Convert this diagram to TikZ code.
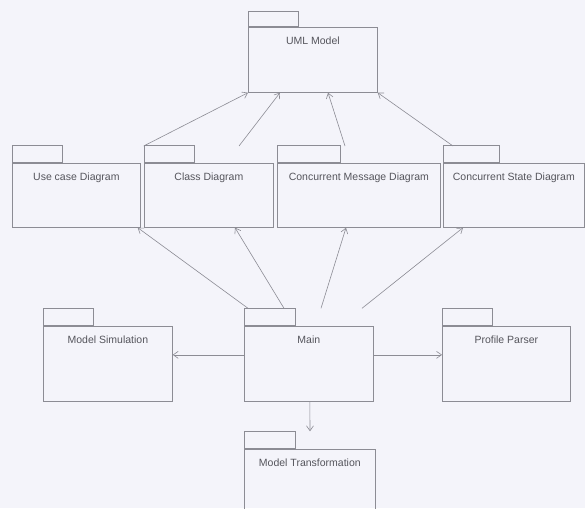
\documentclass[tikz,border=0pt]{standalone}
\usepackage{fontspec}
\setmainfont{Liberation Sans}
\usetikzlibrary{arrows.meta,calc}
\definecolor{bg}{HTML}{F4F4FA}
\definecolor{ln}{HTML}{8C8C94}
\definecolor{tx}{HTML}{55555C}
\tikzset{
  pkgbody/.style={draw=ln, line width=0.7pt, rectangle, inner sep=0pt, anchor=north west},
  pkgtab/.style={draw=ln, line width=0.7pt, rectangle, inner sep=0pt, minimum height=17pt, anchor=south west},
  pkglabel/.style={below=10pt, font=\fontsize{10.5}{13}\selectfont, text=tx, inner sep=0pt},
  dep/.style={draw=ln, line width=0.6pt, -{Straight Barb[length=5pt,width=7pt]}}
}
\newcommand{\pkgdraw}[8]{%
  \node[pkgbody, minimum width=#4pt, minimum height=#5pt, label={[pkglabel]north:#6}] (#1) at (#2,#3) {};
  \node[pkgtab, minimum width=#7pt, minimum height=#8pt] (#1T) at (#1.north west) {};
}
\begin{document}
\begin{tikzpicture}[x=1pt,y=-1pt]
\fill[bg] (0,0) rectangle (585,508);
\useasboundingbox (0,0) rectangle (585,508);
\pkgdraw{uml}{248}{27}{129}{65}{UML Model}{50}{15}
\pkgdraw{uc}{12}{163}{128}{64}{Use case Diagram}{50}{17}
\pkgdraw{cls}{144}{163}{129}{64}{Class Diagram}{50}{17}
\pkgdraw{cm}{277}{163}{163}{64}{Concurrent Message Diagram}{63}{17}
\pkgdraw{cs}{443}{163}{141}{64}{Concurrent State Diagram}{56}{17}
\pkgdraw{ms}{43}{326}{129}{75}{Model Simulation}{50}{17}
\pkgdraw{main}{244}{326}{129}{75}{Main}{51}{17}
\pkgdraw{pp}{442}{326}{128}{75}{Profile Parser}{50}{17}
\pkgdraw{mt}{244}{449}{131}{62}{Model Transformation}{51}{17}
% to UML Model
\draw[dep] ($(uc.north east)+(3,-17)$) -- (uml.south west);
\draw[dep] ($(cls.north west)+(95,-17)$) -- ($(uml.south west)+(32,0)$);
\draw[dep] ($(cm.north west)+(68,-17)$) -- ($(uml.south west)+(80,0)$);
\draw[dep] ($(cs.north west)+(10,-17)$) -- (uml.south east);
% from Main
\draw[dep] ($(mainT.north west)+(4,0)$) -- ($(uc.south east)+(-3,0)$);
\draw[dep] ($(mainT.north west)+(40,0)$) -- ($(cls.south west)+(91,0)$);
\draw[dep] ($(mainT.north west)+(77,0)$) -- ($(cm.south west)+(69,0)$);
\draw[dep] ($(mainT.north west)+(118,0)$) -- ($(cs.south west)+(20,0)$);
\draw[dep] ($(main.west)+(0,-9)$) -- ($(ms.east)+(0,-9)$);
\draw[dep] ($(main.east)+(0,-9)$) -- ($(pp.west)+(0,-9)$);
\draw[dep] ($(main.south)+(1,0)$) -- ($(mtT.north west)+(66,0)$);
\end{tikzpicture}
\end{document}
